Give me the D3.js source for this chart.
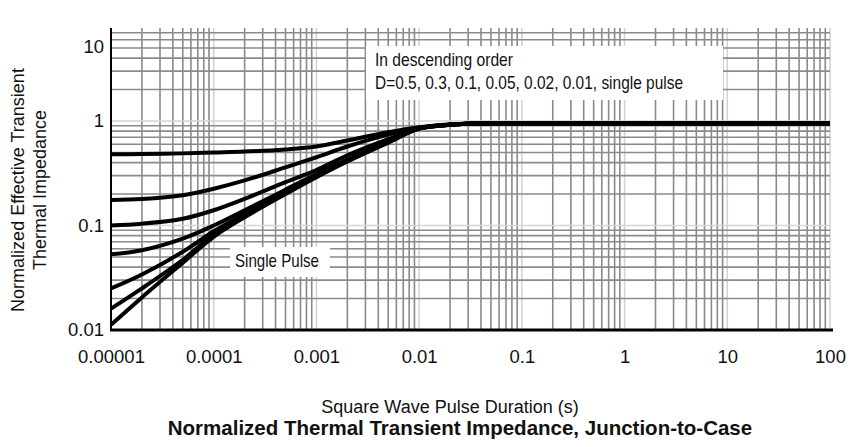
<!DOCTYPE html>
<html>
<head>
<meta charset="utf-8">
<script src="https://cdn.jsdelivr.net/npm/d3@7"></script>
<style>
  body { margin: 0; background: #fff; }
  text { font-family: "Liberation Sans", Arial, Helvetica, sans-serif; fill: #111; }
</style>
</head>
<body>
<div id="chart"></div>
<script>
// pulse duration (s)
const pulseTimes = [1e-5, 2e-5, 5e-5, 1e-4, 2e-4, 5e-4, 1e-3, 2e-3, 5e-3, 1e-2, 2e-2, 5e-2, 1e-1, 1, 10, 100];

// normalized effective transient thermal impedance, one array per duty cycle
const zD050   = [0.48, 0.483, 0.49, 0.50, 0.51, 0.535, 0.57, 0.65, 0.78, 0.87, 0.93, 0.95, 0.95, 0.95, 0.95, 0.95];
const zD030   = [0.175, 0.179, 0.195, 0.225, 0.27, 0.36, 0.45, 0.57, 0.74, 0.86, 0.92, 0.95, 0.95, 0.95, 0.95, 0.95];
const zD010   = [0.10, 0.104, 0.116, 0.14, 0.18, 0.26, 0.34, 0.47, 0.67, 0.85, 0.92, 0.95, 0.95, 0.95, 0.95, 0.95];
const zD005   = [0.053, 0.058, 0.075, 0.10, 0.14, 0.22, 0.31, 0.43, 0.64, 0.85, 0.92, 0.95, 0.95, 0.95, 0.95, 0.95];
const zD002   = [0.025, 0.034, 0.056, 0.088, 0.13, 0.21, 0.30, 0.42, 0.63, 0.85, 0.92, 0.95, 0.95, 0.95, 0.95, 0.95];
const zD001   = [0.016, 0.025, 0.047, 0.082, 0.124, 0.205, 0.295, 0.415, 0.63, 0.845, 0.92, 0.95, 0.95, 0.95, 0.95, 0.95];
const zSingle = [0.0112, 0.0205, 0.044, 0.078, 0.12, 0.20, 0.29, 0.41, 0.62, 0.845, 0.92, 0.95, 0.95, 0.95, 0.95, 0.95];

const xTickValues = [1e-5, 1e-4, 1e-3, 1e-2, 1e-1, 1, 10, 100];
const xTickLabels = ["0.00001", "0.0001", "0.001", "0.01", "0.1", "1", "10", "100"];
const yTickValues = [0.01, 0.1, 1, 10];
const yTickLabels = ["0.01", "0.1", "1", "10"];

const legendLines = ["In descending order", "D=0.5, 0.3, 0.1, 0.05, 0.02, 0.01, single pulse"];

const width = 850, height = 447;
const left = 111, right = 830, bottom = 330, plotTop = 28;
const decadeY = 104.5;

const svg = d3.select("#chart").append("svg")
    .attr("width", width)
    .attr("height", height);

const x = d3.scaleLog().domain([1e-5, 100]).range([left, right]);
const y = d3.scaleLog().domain([0.01, 10]).range([bottom, bottom - 3 * decadeY]);

// grid lines: decade lines light, 2..9 lines darker
function gridValues(lo, hi) {
    const out = [];
    for (let e = Math.log10(lo); e < Math.log10(hi) + 0.5; e++) {
        for (let m = 1; m <= 9; m++) {
            const v = m * Math.pow(10, e);
            if (v >= lo * 0.999 && v <= hi * 1.001) out.push({ v: v, major: m === 1 });
        }
    }
    return out;
}

const grid = svg.append("g").attr("class", "grid");
grid.selectAll(".vline")
    .data(gridValues(1e-5, 100).filter(d => d.v > 1e-5))
    .enter().append("line")
    .attr("x1", d => x(d.v)).attr("x2", d => x(d.v))
    .attr("y1", plotTop).attr("y2", bottom)
    .attr("stroke", d => d.major ? "#d4d4d4" : "#8a8a8a")
    .attr("stroke-width", 1.6);

grid.selectAll(".hline")
    .data(gridValues(0.01, 10).filter(d => d.v > 0.01 && y(d.v) >= plotTop))
    .enter().append("line")
    .attr("x1", left).attr("x2", right)
    .attr("y1", d => y(d.v)).attr("y2", d => y(d.v))
    .attr("stroke", d => d.major ? "#d4d4d4" : "#8a8a8a")
    .attr("stroke-width", 1.6);

// legend box
const legend = svg.append("g").attr("transform", "translate(366,46)");
legend.append("rect")
    .attr("width", 357).attr("height", 54)
    .attr("fill", "#fff");
legend.append("text").attr("x", 9).attr("y", 20)
    .attr("font-size", 18.5)
    .attr("textLength", 138).attr("lengthAdjust", "spacingAndGlyphs")
    .text(legendLines[0]);
legend.append("text").attr("x", 9).attr("y", 43)
    .attr("font-size", 18.5)
    .attr("textLength", 308).attr("lengthAdjust", "spacingAndGlyphs")
    .text(legendLines[1]);

// single pulse label
const sp = svg.append("g").attr("transform", "translate(230,247)");
sp.append("rect").attr("width", 100).attr("height", 30).attr("fill", "#fff");
sp.append("text").attr("x", 5).attr("y", 20)
    .attr("font-size", 18.5)
    .attr("textLength", 84).attr("lengthAdjust", "spacingAndGlyphs")
    .text("Single Pulse");

// curves
const series = [zD050, zD030, zD010, zD005, zD002, zD001, zSingle];
const line = d3.line()
    .x((d, i) => x(pulseTimes[i]))
    .y(d => y(d))
    .curve(d3.curveCatmullRom.alpha(0.5));

svg.append("g").selectAll("path")
    .data(series)
    .enter().append("path")
    .attr("d", line)
    .attr("fill", "none")
    .attr("stroke", "#000")
    .attr("stroke-width", 4)
    .attr("stroke-linejoin", "round");

// axes
const xAxis = svg.append("g")
    .attr("transform", `translate(0,${bottom})`)
    .call(d3.axisBottom(x).tickValues(xTickValues)
        .tickFormat((d, i) => xTickLabels[i]).tickSize(0).tickPadding(20));
xAxis.select(".domain").remove();
xAxis.selectAll("text").attr("font-size", 18.5).style("font-family", null);

svg.append("line")
    .attr("x1", left - 1).attr("x2", right + 3)
    .attr("y1", bottom).attr("y2", bottom)
    .attr("stroke", "#000").attr("stroke-width", 3);

const yAxis = svg.append("g")
    .attr("transform", `translate(${left},0)`)
    .call(d3.axisLeft(y).tickValues(yTickValues)
        .tickFormat((d, i) => yTickLabels[i]).tickSize(0).tickPadding(7));
yAxis.select(".domain").remove();
yAxis.selectAll("text").attr("font-size", 18.5).style("font-family", null);
// the top label sits at the clipped top of the axis
yAxis.selectAll(".tick").filter(d => d === 10)
    .attr("transform", "translate(0,47)");

svg.append("line")
    .attr("x1", left).attr("x2", left)
    .attr("y1", plotTop).attr("y2", bottom + 1)
    .attr("stroke", "#000").attr("stroke-width", 2);

// axis titles
svg.append("text")
    .attr("transform", "translate(24,190) rotate(-90)")
    .attr("text-anchor", "middle")
    .attr("font-size", 18)
    .text("Normalized Effective Transient");
svg.append("text")
    .attr("transform", "translate(46,190) rotate(-90)")
    .attr("text-anchor", "middle")
    .attr("font-size", 18)
    .text("Thermal Impedance");

svg.append("text")
    .attr("x", 450).attr("y", 413)
    .attr("text-anchor", "middle")
    .attr("font-size", 18)
    .text("Square Wave Pulse Duration (s)");

svg.append("text")
    .attr("x", 460).attr("y", 435)
    .attr("text-anchor", "middle")
    .attr("font-size", 20.5)
    .attr("font-weight", "bold")
    .text("Normalized Thermal Transient Impedance, Junction-to-Case");
</script>
</body>
</html>
